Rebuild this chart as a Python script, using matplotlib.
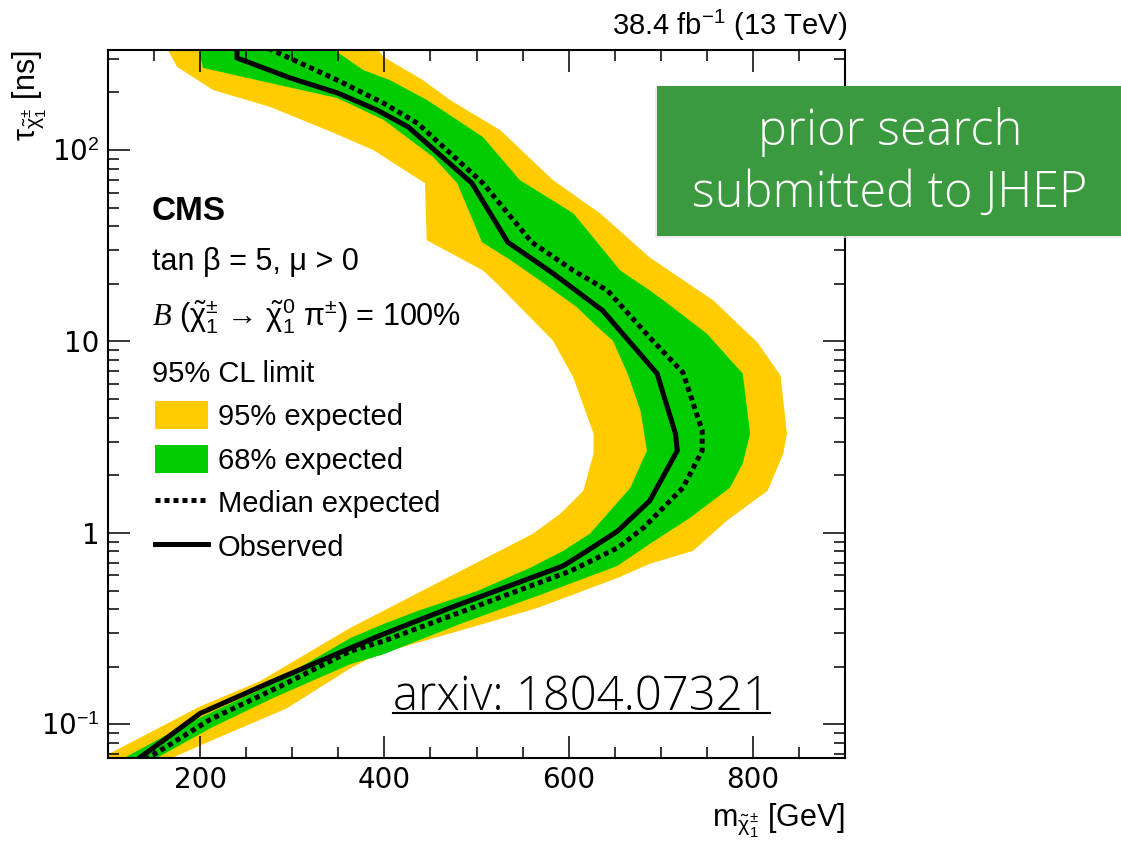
import numpy as np
import matplotlib
matplotlib.use("Agg")
import matplotlib.pyplot as plt
from matplotlib.patches import Patch, Rectangle
from matplotlib.lines import Line2D
from matplotlib.ticker import MultipleLocator, LogLocator, FixedLocator, FixedFormatter, NullFormatter

plt.rcParams['font.family'] = ['Liberation Sans', 'DejaVu Sans']
plt.rcParams['mathtext.fontset'] = 'custom'
plt.rcParams['mathtext.rm'] = 'Liberation Sans'
plt.rcParams['mathtext.it'] = 'Liberation Sans:italic'
plt.rcParams['mathtext.cal'] = 'Liberation Serif:italic'

# observed limit (mass in GeV, lifetime in ns)
obs_mass = [240, 240, 298, 349, 392, 426, 495, 534, 583, 637, 696, 716, 718, 688,
            653, 620, 594, 544, 471, 399, 363, 279, 200, 131]
obs_tau = [340, 303, 238, 199, 162, 132, 67.2, 33.0, 22.7, 14.5, 6.80, 3.30, 2.69, 1.47,
           1.02, 0.805, 0.672, 0.547, 0.405, 0.296, 0.250, 0.168, 0.114, 0.065]

# median expected
exp_mass = [274, 349, 399, 436, 507, 560, 605, 642, 688, 724, 745, 745, 724, 681,
            653, 602, 471, 399, 363, 287, 211, 140]
exp_tau = [340, 232, 176, 138, 67.2, 33.0, 23.5, 18.5, 10.5, 6.89, 3.42, 2.69, 1.72, 1.06,
           0.834, 0.632, 0.367, 0.272, 0.241, 0.158, 0.106, 0.065]

# 68% band edges
g68_lo_mass = [198, 203, 276, 349, 399, 453, 479, 506, 537, 569, 609, 629, 648, 664,
               678, 685, 667, 623, 594, 558, 501, 436, 399, 363, 273, 192, 113]
g68_lo_tau = [340, 269, 224, 187, 144, 91.9, 67.2, 33.0, 26.6, 20.8, 15.1, 12.2, 10.1, 6.80,
              4.35, 2.69, 1.72, 0.989, 0.805, 0.656, 0.497, 0.391, 0.334, 0.282, 0.158, 0.104, 0.065]
g68_hi_mass = [343, 377, 406, 446, 507, 547, 605, 656, 688, 703, 750, 789, 797, 789,
               775, 732, 688, 653, 572, 482, 399, 363, 279, 211, 149]
g68_hi_tau = [340, 262, 232, 183, 117, 69.7, 46.8, 23.5, 18.5, 16.4, 11.0, 6.80, 3.30, 2.30,
              1.72, 1.20, 0.875, 0.672, 0.480, 0.334, 0.232, 0.206, 0.137, 0.0953, 0.065]

# 95% band edges
y95_lo_mass = [164, 175, 214, 276, 338, 388, 444, 446, 507, 522, 540, 583, 605, 627,
               627, 616, 591, 561, 363, 265, 200, 88]
y95_lo_tau = [340, 272, 206, 168, 127, 100, 67.2, 33.8, 23.5, 20.1, 16.4, 10.1, 6.49, 3.30,
              2.59, 1.66, 1.26, 0.989, 0.319, 0.168, 0.124, 0.065]
y95_hi_mass = [392, 399, 442, 471, 526, 583, 634, 688, 757, 805, 830, 837, 833, 816,
               772, 735, 688, 653, 566, 507, 392, 363, 294, 218, 164]
y95_hi_tau = [340, 307, 232, 183, 127, 69.7, 46.8, 27.5, 16.4, 9.88, 6.64, 3.30, 2.59, 1.66,
              1.16, 0.805, 0.689, 0.581, 0.405, 0.334, 0.232, 0.196, 0.121, 0.0845, 0.065]

yellow = '#FFCC00'
green = '#00CC00'
thin = ['Open Sans', 'Liberation Sans']
W, H = 1121, 841


def fx(x):
    return x / W


def fy(y):
    return 1 - y / H


fig = plt.figure(figsize=(W / 100, H / 100), dpi=100)
ax = fig.add_axes([fx(108), fy(758), (845 - 108) / W, (758 - 50) / H])

ax.fill(np.concatenate([y95_lo_mass, y95_hi_mass[::-1]]),
        np.concatenate([y95_lo_tau, y95_hi_tau[::-1]]), color=yellow, lw=0)
ax.fill(np.concatenate([g68_lo_mass, g68_hi_mass[::-1]]),
        np.concatenate([g68_lo_tau, g68_hi_tau[::-1]]), color=green, lw=0)
ax.plot(exp_mass, exp_tau, color='black', lw=3.6, ls=(0, (1, 0.8)), dash_capstyle='butt')
ax.plot(obs_mass, obs_tau, color='black', lw=3.6, solid_joinstyle='miter')

ax.set_yscale('log')
ax.set_xlim(100, 900)
ax.set_ylim(2 / 30, 1e4 / 30)

ax.set_xticks([200, 400, 600, 800])
ax.set_xticklabels(['200', '400', '600', '800'])
ax.xaxis.set_minor_locator(MultipleLocator(50))
ax.yaxis.set_major_locator(FixedLocator([0.1, 1, 10, 100]))
ax.yaxis.set_major_formatter(FixedFormatter([r'10$^{-1}$', '1', '10', r'10$^{2}$']))
ax.yaxis.set_minor_locator(LogLocator(base=10, subs=np.arange(2, 10)))
ax.yaxis.set_minor_formatter(NullFormatter())

ax.tick_params(which='both', direction='in', top=True, right=True, labelsize=20, width=1.1)
ax.tick_params(which='major', length=15.8, pad=6)
ax.tick_params(which='minor', length=7.9)
for lab in ax.get_xticklabels() + ax.get_yticklabels():
    lab.set_family(['DejaVu Sans'])
for s in ax.spines.values():
    s.set_linewidth(1.5)

# axis titles
fig.text(fx(845), fy(827), r'm$_{\tilde{\mathrm{χ}}^{\pm}_{1}}$ [GeV]', fontsize=22,
         ha='right', va='baseline')
fig.text(fx(30), fy(50), r'τ$_{\tilde{\mathrm{χ}}^{\pm}_{1}}$ [ns]', fontsize=22,
         rotation=90, ha='center', va='top')
fig.text(fx(847), fy(35), r'38.4 fb$^{-1}$ (13 TeV)', fontsize=21, ha='right', va='baseline')

# labels inside the frame
fig.text(fx(152), fy(220), 'CMS', fontsize=24, fontweight='bold', va='baseline')
fig.text(fx(152), fy(270), 'tan β = 5, μ > 0', fontsize=22, va='baseline')
fig.text(fx(152), fy(325),
         r'$\mathcal{B}$ ($\tilde{\mathrm{χ}}^{\pm}_{1}$ → $\tilde{\mathrm{χ}}^{0}_{1}$ π$^{\pm}$) = 100%',
         fontsize=22, va='baseline')
fig.text(fx(152), fy(382), '95% CL limit', fontsize=21, va='baseline')

handles = [Patch(facecolor=yellow, edgecolor='none'),
           Patch(facecolor=green, edgecolor='none'),
           Line2D([], [], color='black', lw=3.6, ls=(0, (1, 0.8)), dash_capstyle='butt'),
           Line2D([], [], color='black', lw=3.6)]
labels = ['95% expected', '68% expected', 'Median expected', 'Observed']
ax.legend(handles, labels, loc='upper left', bbox_to_anchor=(fx(155), fy(401)),
          bbox_transform=fig.transFigure, frameon=False, fontsize=21,
          handlelength=1.82, handleheight=1.1, handletextpad=0.34,
          labelspacing=0.47, borderpad=0, borderaxespad=0)

# slide annotations
fig.add_artist(Rectangle((fx(655), fy(238)), (W - 655) / W, 150 / H,
                         transform=fig.transFigure, facecolor='#e4e4e4',
                         edgecolor='none', alpha=0.7, zorder=4.5))
fig.add_artist(Rectangle((fx(657), fy(236)), (W - 657) / W, 150 / H,
                         transform=fig.transFigure, facecolor='#3b9a40',
                         edgecolor='none', zorder=5))
fig.text(fx(890), fy(132), 'prior search', fontsize=35, color='white',
         family=thin, fontweight='light', ha='center', va='center', zorder=6)
fig.text(fx(890), fy(194), 'submitted to JHEP', fontsize=35, color='white',
         family=thin, fontweight='light', ha='center', va='center', zorder=6)

arx = fig.text(fx(393), fy(710), 'arxiv: 1804.07321', fontsize=34,
               family=thin, fontweight='light', ha='left', va='baseline', zorder=6)
fig.canvas.draw()
bb = arx.get_window_extent().transformed(fig.transFigure.inverted())
fig.add_artist(Line2D([bb.x0, bb.x1], [fy(713), fy(713)], color='black', lw=1.5,
                      transform=fig.transFigure, zorder=6))

fig.savefig('out.png', dpi=100)
